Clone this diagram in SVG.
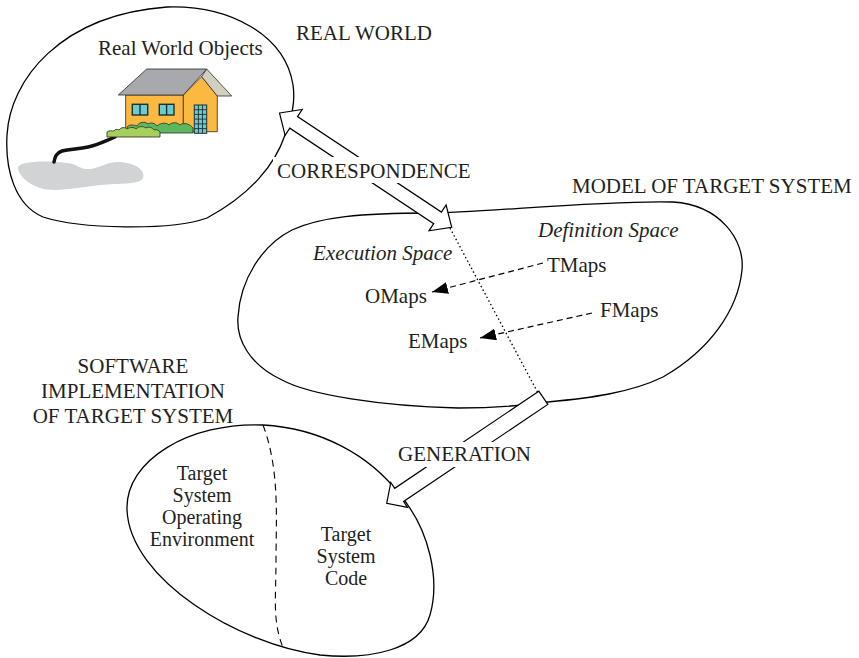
<svg xmlns="http://www.w3.org/2000/svg" width="859" height="658" viewBox="0 0 859 658">
  <defs>
    <style>
      .blob { fill: none; stroke: #000; stroke-width: 1.3; }
      .lbl { font-family: "Liberation Serif", "Times New Roman", serif; font-size: 21px; fill: #231f20; }
      .sm { font-size: 20px; }
      .it { font-style: italic; }
      .block { fill: #fff; stroke: #000; stroke-width: 1.2; stroke-linejoin: miter; }
      .map { fill: none; stroke: #000; stroke-width: 1.2; stroke-dasharray: 6 4; }
      .dotted { fill: none; stroke: #000; stroke-width: 1.3; stroke-dasharray: 1.5 2.6; }
      .divider { fill: none; stroke: #000; stroke-width: 1.1; stroke-dasharray: 7 5; }
      .hl { stroke: #2b2b2b; stroke-width: 0.8; }
      .labelbg { fill: #fff; }
    </style>
    <marker id="tri" viewBox="0 0 16 12" markerWidth="16" markerHeight="12" markerUnits="userSpaceOnUse" refX="16" refY="6" orient="auto">
      <path d="M0,0 L16,6 L0,12 Z" fill="#000"/>
    </marker>
  </defs>

  <!-- Real world -->
  <g id="real-world">
    <path class="blob" d="M167,7 C230,5 285,35 293,85 C296,105 290,120 285,135 C275,165 250,195 207,218 C170,231 80,229 43,217 C15,205 5,170 7,135 C10,80 60,15 167,7 Z"/>
    <text class="lbl" x="296" y="40">REAL WORLD</text>
    <text class="lbl" x="98" y="55">Real World Objects</text>
    <g id="house">
      <!-- pond -->
      <path d="M18,168 C18,162 40,160 67,163 C78,164 80,170 90,169 C100,168 108,161 120,162 C135,163 146,170 143,178 C140,185 120,183 100,185 C80,187 55,193 40,188 C28,184 18,175 18,168 Z" fill="#d1d3d4"/>
      <!-- path to the house -->
      <path d="M115,137 C105,141 98,145 88,147 C78,149 70,149 62,151 C56,153 55,157 54,162" fill="none" stroke="#111" stroke-width="3.5" stroke-linecap="round"/>
      <!-- walls -->
      <rect class="hl" x="125.7" y="95" width="57.6" height="36.7" fill="#fbb941"/>
      <polygon class="hl" points="183.3,95 201.7,76.7 217.3,96 217.3,131.7 183.3,131.7" fill="#fbb941"/>
      <!-- roof -->
      <polygon class="hl" points="118.3,95 146.7,69 206.7,69 183.3,95" fill="#a7a9ac"/>
      <polygon class="hl" points="206.7,69 231.7,96 217.3,96 201.7,76.7" fill="#d3cfbf"/>
      <!-- windows -->
      <g fill="#6ccbd1" stroke="#1d2f30" stroke-width="1.4">
        <rect x="132.3" y="104.3" width="15.4" height="10.7"/>
        <line x1="140" y1="104.3" x2="140" y2="115"/>
        <rect x="159.3" y="104.3" width="14.7" height="10.7"/>
        <line x1="166.6" y1="104.3" x2="166.6" y2="115"/>
      </g>
      <!-- door -->
      <rect x="194.3" y="105" width="12.4" height="28.3" fill="#6ccbd1" stroke="#1d2f30" stroke-width="1"/>
      <g stroke="#1d2f30" stroke-width="0.9">
        <line x1="198.4" y1="105" x2="198.4" y2="133.3"/>
        <line x1="202.5" y1="105" x2="202.5" y2="133.3"/>
        <line x1="194.3" y1="109.7" x2="206.7" y2="109.7"/>
        <line x1="194.3" y1="114.4" x2="206.7" y2="114.4"/>
        <line x1="194.3" y1="119.1" x2="206.7" y2="119.1"/>
        <line x1="194.3" y1="123.9" x2="206.7" y2="123.9"/>
        <line x1="194.3" y1="128.6" x2="206.7" y2="128.6"/>
      </g>
      <!-- bushes -->
      <path class="hl" d="M127,133 L127,127 C130,124 134,125 137,126 C139,122 145,121 148,124 C151,122 155,123 157,126 C160,123 166,122 169,125 C172,122 177,122 180,125 C184,122 190,124 193,128 L193,133 Z" fill="#5cb85c"/>
      <path class="hl" d="M107,137 L107,132 C109,130 112,131 114,131 C115,129 117,129 119,130 C121,127 125,127 127,129 C130,127 134,127 136,129 C139,126 143,126 146,128 C149,126 153,128 154,130 C157,129 160,131 160,133 L160,137 Z" fill="#a5d05c"/>
    </g>
  </g>

  <!-- Model of target system -->
  <g id="model">
    <path class="blob" d="M430,213 C480,213 600,200 673,202 C720,205 745,240 742,270 C738,310 710,350 663,377 C630,393 590,398 548,402 C520,406 490,408 458,408 C380,406 310,395 282,380 C250,365 236,340 238,317 C240,280 262,245 292,230 C320,217 360,213 430,213 Z"/>
    <text class="lbl" x="572" y="193">MODEL OF TARGET SYSTEM</text>
    <text class="lbl it" x="538" y="237">Definition Space</text>
    <text class="lbl it" x="313" y="260">Execution Space</text>
    <text class="lbl" x="547" y="272">TMaps</text>
    <text class="lbl" x="365" y="303">OMaps</text>
    <text class="lbl" x="600" y="317">FMaps</text>
    <text class="lbl" x="408" y="348">EMaps</text>
  </g>

  <!-- Software implementation -->
  <g id="software">
    <path class="blob" d="M263,425 C320,428 370,455 400,495 C430,530 440,580 430,615 C420,650 370,660 320,655 C240,645 130,580 127,510 C125,460 190,422 263,425 Z"/>
    <path class="divider" d="M263,425 C280,470 276,520 276,560 C276,600 272,622 284,650"/>
    <text class="lbl" text-anchor="middle" x="133" y="373">SOFTWARE</text>
    <text class="lbl" text-anchor="middle" x="133" y="398">IMPLEMENTATION</text>
    <text class="lbl" text-anchor="middle" x="133" y="423">OF TARGET SYSTEM</text>
    <text class="lbl sm" text-anchor="middle" x="202" y="479.7">Target</text>
    <text class="lbl sm" text-anchor="middle" x="202" y="501.9">System</text>
    <text class="lbl sm" text-anchor="middle" x="202" y="524.1">Operating</text>
    <text class="lbl sm" text-anchor="middle" x="202" y="546.3">Environment</text>
    <text class="lbl sm" text-anchor="middle" x="346" y="540.8">Target</text>
    <text class="lbl sm" text-anchor="middle" x="346" y="563">System</text>
    <text class="lbl sm" text-anchor="middle" x="346" y="585.2">Code</text>
  </g>

  <!-- Connectors -->
  <g id="connectors">
    <path class="dotted" d="M450,228 L538,393"/>
    <path class="map" d="M543,263 L432,292" marker-end="url(#tri)"/>
    <path class="map" d="M592,313 L480,338" marker-end="url(#tri)"/>
    <!-- correspondence: double-headed block arrow -->
    <polygon class="block" points="279.5,113 302.2,109.5 297.5,116.6 441.4,212.1 446.1,205 451.7,227.3 429,230.8 433.7,223.7 289.8,128.2 285.1,135.3"/>
    <rect class="labelbg" x="273" y="157" width="203" height="26"/>
    <text class="lbl" x="277" y="178">CORRESPONDENCE</text>
    <!-- generation: block arrow from model to code -->
    <polygon class="block" points="538.8,391.2 394.7,488.3 390.8,482.5 386.7,503.3 407.5,507.3 403.6,501.5 547.8,404.4"/>
    <rect class="labelbg" x="394" y="442" width="142" height="25"/>
    <text class="lbl" x="398" y="461">GENERATION</text>
  </g>
</svg>
